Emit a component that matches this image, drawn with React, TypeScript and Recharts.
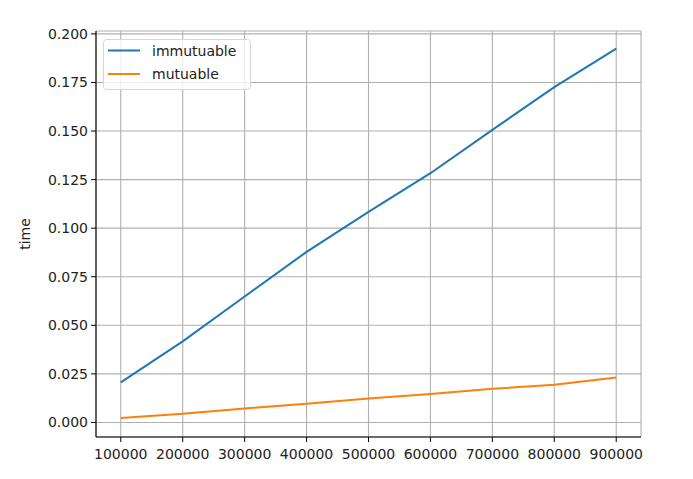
import React from 'react';
import { LineChart, Line, XAxis, YAxis, CartesianGrid, Legend } from 'recharts';

const sizes = [100000, 200000, 300000, 400000, 500000, 600000, 700000, 800000, 900000];
const immutuable = [0.0206, 0.0417, 0.0648, 0.0878, 0.1084, 0.1283, 0.1506, 0.1726, 0.1924];
const mutuable = [0.0023, 0.0045, 0.0072, 0.0096, 0.0123, 0.0146, 0.0173, 0.0194, 0.0231];
const xTicks = [100000, 200000, 300000, 400000, 500000, 600000, 700000, 800000, 900000];
const yTicks = [0, 0.025, 0.05, 0.075, 0.1, 0.125, 0.15, 0.175, 0.2];

const data = sizes.map((s, i) => ({ n: s, immutuable: immutuable[i], mutuable: mutuable[i] }));

const FONT = 'DejaVu Sans';
const tickStyle = { fill: '#222', fontSize: 14, fontFamily: FONT };

const LegendBox = (props: any) => {
  const payload = props.payload || [];
  return (
    <svg width={148} height={51} style={{ display: 'block' }}>
      <rect x={0.5} y={0.5} width={147} height={50} rx={3} ry={3} fill="rgba(255,255,255,0.8)" stroke="#d6d6d6" strokeWidth={1} />
      {payload.map((p: any, i: number) => {
        const y = 11.5 + i * 23.5;
        return (
          <g key={p.value}>
            <line x1={5} x2={37} y1={y} y2={y} stroke={p.color} strokeWidth={2} />
            <text x={49} y={y + 5} fontSize={14} fontFamily={FONT} fill="#222">{p.value}</text>
          </g>
        );
      })}
    </svg>
  );
};

const YLabel = (props: any) => {
  const vb = props.viewBox || { x: 0, y: 0, height: 0 };
  const cy = vb.y + vb.height / 2;
  return (
    <text x={30} y={cy} transform={`rotate(-90, 30, ${cy})`} textAnchor="middle" fontSize={14} fontFamily={FONT} fill="#222">
      time
    </text>
  );
};

export default function App() {
  return (
    <div style={{ position: 'absolute', left: 0, top: 0, width: 693, height: 479, background: '#fff' }}>
      <LineChart
        width={693}
        height={479}
        data={data}
        margin={{ top: 31, right: 52, bottom: 0, left: 0 }}
        style={{ fontFamily: FONT }}
      >
        <CartesianGrid stroke="#b0b0b0" strokeWidth={1.1} />
        <XAxis
          dataKey="n"
          type="number"
          domain={[60000, 940000]}
          ticks={xTicks}
          allowDataOverflow
          height={42}
          tick={tickStyle}
          tickSize={5}
          tickMargin={7}
          tickLine={{ stroke: '#000' }}
          axisLine={{ stroke: '#000', strokeWidth: 1.1 }}
          interval={0}
        />
        <XAxis
          xAxisId="top"
          orientation="top"
          type="number"
          domain={[60000, 940000]}
          height={0}
          tick={false}
          tickLine={false}
          axisLine={{ stroke: '#000', strokeWidth: 1.1 }}
        />
        <YAxis
          type="number"
          domain={[-0.0075, 0.2015]}
          ticks={yTicks}
          allowDataOverflow
          width={96}
          tick={tickStyle}
          tickSize={5}
          tickMargin={3}
          tickLine={{ stroke: '#000' }}
          axisLine={{ stroke: '#000', strokeWidth: 1.1 }}
          tickFormatter={(v: number) => v.toFixed(3)}
          interval={0}
          label={<YLabel />}
        />
        <YAxis
          yAxisId="right"
          orientation="right"
          type="number"
          domain={[-0.0075, 0.2015]}
          width={0}
          tick={false}
          tickLine={false}
          axisLine={{ stroke: '#000', strokeWidth: 1.1 }}
        />
        <Legend
          layout="vertical"
          align="center"
          verticalAlign="middle"
          content={<LegendBox />}
          wrapperStyle={{ position: 'absolute', left: 103, top: 39, width: 148, height: 51 }}
        />
        <Line type="linear" dataKey="immutuable" name="immutuable" stroke="#1f77b4" strokeWidth={2} dot={false} isAnimationActive={false} />
        <Line type="linear" dataKey="mutuable" name="mutuable" stroke="#ff7f0e" strokeWidth={2} dot={false} isAnimationActive={false} />
      </LineChart>
    </div>
  );
}
